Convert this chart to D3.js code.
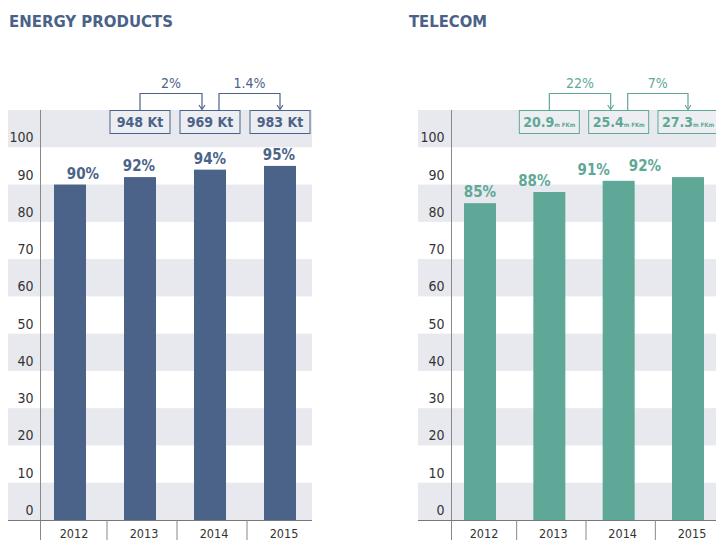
<!DOCTYPE html>
<html>
<head>
<meta charset="utf-8">
<script src="https://cdn.jsdelivr.net/npm/d3@7/dist/d3.min.js"></script>
<style>
  body { margin: 0; background: #fff; }
  text { font-family: "DejaVu Sans Condensed", "DejaVu Sans", sans-serif; font-stretch: condensed; }
</style>
</head>
<body>
<svg id="chart" width="716" height="540"></svg>
<script>
// data
const years = ["2012", "2013", "2014", "2015"];
const yTicks = [0, 10, 20, 30, 40, 50, 60, 70, 80, 90, 100];

const energyShare = [90, 92, 94, 95];
const energyVolume = ["948", "969", "983"];       // 2013-2015
const energyVolumeUnit = "Kt";
const energyGrowth = ["2%", "1.4%"];

const telecomShare = [85, 88, 91, 92];
const telecomVolume = ["20.9", "25.4", "27.3"];   // 2013-2015
const telecomVolumeUnit = "m FKm";
const telecomGrowth = ["22%", "7%"];

const svg = d3.select("#chart");
const gray = "#e8e9ee";

const y = d3.scaleLinear().domain([0, 110]).range([520, 110]);

function drawPanel(opts) {
    const g = svg.append("g");
    const x = d3.scalePoint().domain(years).range(opts.xRange);
    const barW = 32;

    // Title
    g.append("text")
        .attr("x", opts.titleX)
        .attr("y", 27)
        .attr("font-size", 16)
        .attr("font-weight", "bold")
        .attr("fill", "#4a6188")
        .attr("textLength", opts.titleLen)
        .attr("lengthAdjust", "spacingAndGlyphs")
        .text(opts.title);

    // Alternating bands
    g.selectAll(".band")
        .data(yTicks)
        .enter()
        .append("rect")
        .attr("x", opts.bandLeft)
        .attr("y", d => y(d + 10))
        .attr("width", opts.bandRight - opts.bandLeft)
        .attr("height", d => y(d) - y(d + 10))
        .attr("fill", (d, i) => i % 2 === 0 ? gray : "none");

    // Y labels
    g.selectAll(".ylab")
        .data(yTicks)
        .enter()
        .append("text")
        .attr("x", opts.axisX - 7)
        .attr("y", d => y(d) - 5)
        .attr("text-anchor", "end")
        .attr("font-size", 14)
        .attr("fill", "#333")
        .text(d => d);

    // Axis lines
    g.append("line")
        .attr("x1", opts.axisX).attr("x2", opts.axisX)
        .attr("y1", y(110)).attr("y2", 540)
        .attr("stroke", "#888").attr("stroke-width", 1);
    g.append("line")
        .attr("x1", opts.bandLeft).attr("x2", opts.bandRight)
        .attr("y1", y(0) + 0.5).attr("y2", y(0) + 0.5)
        .attr("stroke", "#777").attr("stroke-width", 1);

    // Year separators + labels
    const step = x.step();
    g.selectAll(".sep")
        .data(years.slice(1))
        .enter()
        .append("line")
        .attr("x1", d => x(d) - step / 2 + 2)
        .attr("x2", d => x(d) - step / 2 + 2)
        .attr("y1", y(0)).attr("y2", 540)
        .attr("stroke", "#888");
    g.selectAll(".year")
        .data(years)
        .enter()
        .append("text")
        .attr("x", d => x(d) + 4)
        .attr("y", 538)
        .attr("text-anchor", "middle")
        .attr("font-size", 12.5)
        .attr("fill", "#333")
        .text(d => d);

    // Bars
    g.selectAll(".bar")
        .data(opts.share)
        .enter()
        .append("rect")
        .attr("x", (d, i) => x(years[i]) - barW / 2)
        .attr("y", d => y(d))
        .attr("width", barW)
        .attr("height", d => y(0) - y(d))
        .attr("fill", opts.color);

    g.selectAll(".pct")
        .data(opts.share)
        .enter()
        .append("text")
        .attr("x", (d, i) => x(years[i]) + opts.labelShift[i])
        .attr("y", d => y(d) - 6)
        .attr("text-anchor", "middle")
        .attr("font-size", 15)
        .attr("font-weight", "bold")
        .attr("fill", opts.color)
        .text(d => d + "%");

    // Volume boxes over 2013-2015
    const boxYears = years.slice(1);
    const box = g.selectAll(".box")
        .data(opts.volume)
        .enter()
        .append("g")
        .attr("transform", (d, i) => `translate(${x(boxYears[i])},0)`);
    box.append("rect")
        .attr("x", -30).attr("y", 110.5)
        .attr("width", 60).attr("height", 23)
        .attr("fill", "#eceef2")
        .attr("stroke", opts.color).attr("stroke-width", 1);
    const t = box.append("text")
        .attr("x", 0).attr("y", 127)
        .attr("text-anchor", "middle")
        .attr("fill", opts.textColor);
    t.append("tspan")
        .attr("font-size", 14)
        .attr("font-weight", "bold")
        .text(d => d);
    t.append("tspan")
        .attr("font-size", opts.unitSize)
        .attr("font-weight", "bold")
        .text(opts.unit);

    // Growth brackets
    opts.growth.forEach((label, i) => {
        const x0 = x(boxYears[i]) + (i === 0 ? 0 : 9);
        const x1 = x(boxYears[i + 1]) - (i === 0 ? 8 : 0);
        g.append("path")
            .attr("d", `M${x0},110 V93.5 H${x1} V109`)
            .attr("fill", "none")
            .attr("stroke", opts.color)
            .attr("stroke-width", 1.2);
        g.append("path")
            .attr("d", `M${x1 - 3},105 L${x1},109.5 L${x1 + 3},105`)
            .attr("fill", "none")
            .attr("stroke", opts.color)
            .attr("stroke-width", 1.2);
        g.append("text")
            .attr("x", (x0 + x1) / 2)
            .attr("y", 88)
            .attr("text-anchor", "middle")
            .attr("font-size", 14)
            .attr("fill", opts.color)
            .text(label);
    });
}

drawPanel({
    title: "ENERGY PRODUCTS", titleX: 9, titleLen: 164,
    xRange: [70, 280], axisX: 40.5, bandLeft: 8, bandRight: 312,
    share: energyShare, volume: energyVolume, unit: " " + energyVolumeUnit, unitSize: 14,
    growth: energyGrowth, color: "#4b6389", textColor: "#4b6389",
    labelShift: [13, -1, 0, -1]
});

drawPanel({
    title: "TELECOM", titleX: 409, titleLen: 78,
    xRange: [480, 688], axisX: 451.5, bandLeft: 418, bandRight: 716,
    share: telecomShare, volume: telecomVolume, unit: telecomVolumeUnit, unitSize: 6,
    growth: telecomGrowth, color: "#5fa898", textColor: "#5fa898",
    labelShift: [0, -15, -25, -43]
});
</script>
</body>
</html>
